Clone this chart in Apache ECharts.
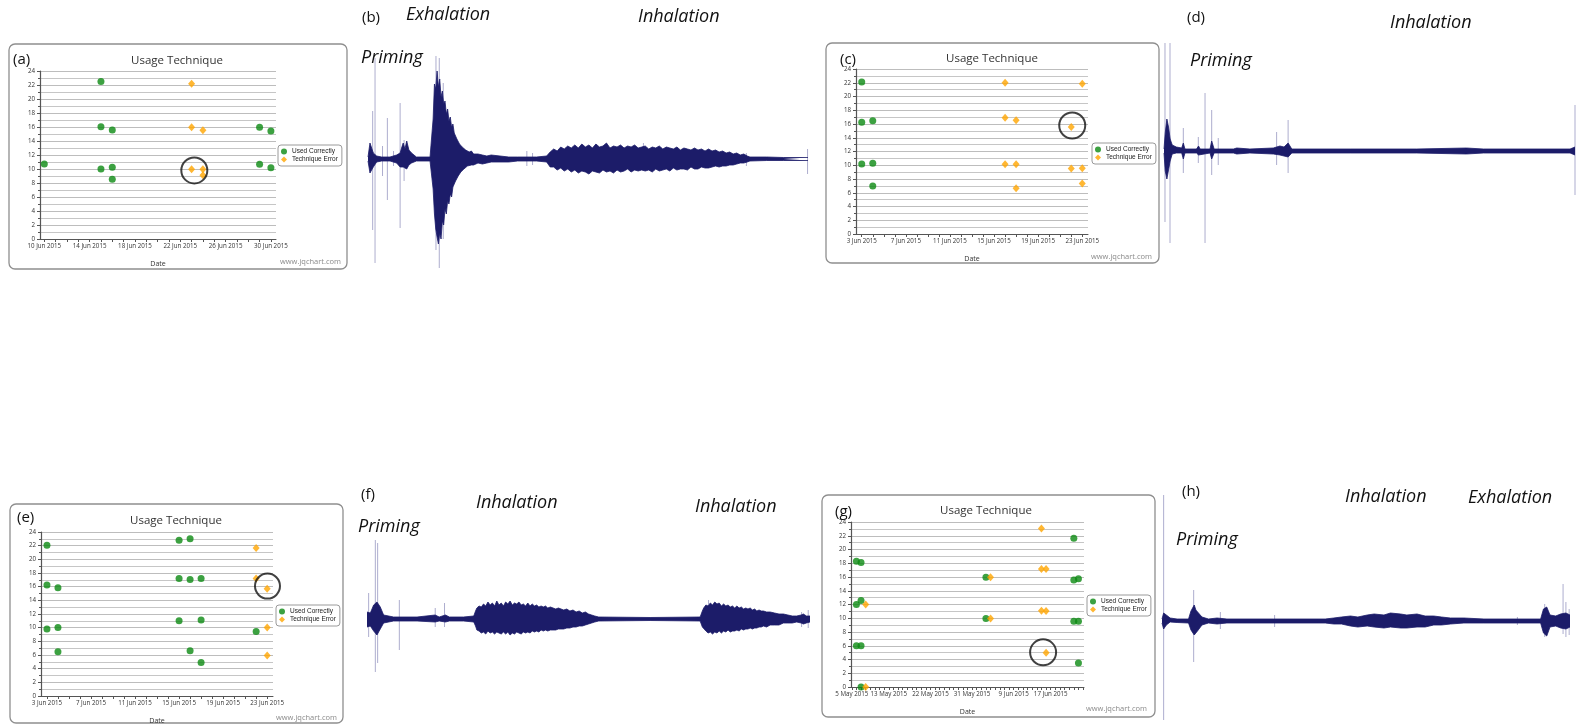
<!DOCTYPE html>
<html>
<head>
<meta charset="utf-8">
<title>Usage Technique</title>
<script src="https://cdn.jsdelivr.net/npm/echarts@6.0.0/dist/echarts.min.js"></script>
<style>
    html, body { margin: 0; padding: 0; background: #fff; }
    #container { width: 1579px; height: 725px; }
</style>
</head>
<body>
<div id="container"></div>
<script>
// ---- scatter panels: x = day of month (g: day counted from 1 May), y = value
var aDays = [10, 14, 18, 22, 26, 30];
var aDayLabels = ['10 Jun 2015', '14 Jun 2015', '18 Jun 2015', '22 Jun 2015', '26 Jun 2015', '30 Jun 2015'];
var aCorrect = [[10, 10.7], [15, 22.5], [15, 16.05], [16, 15.57], [15, 10.0], [16, 10.24], [16, 8.52],
    [29, 15.95], [30, 15.43], [29, 10.67], [30, 10.19]];
var aError = [[23, 22.19], [23, 15.95], [24, 15.52], [23, 9.95], [24, 9.95], [24, 9.1]];
var aMarked = [[23.24, 9.8]];

var cDays = [3, 7, 11, 15, 19, 23];
var cDayLabels = ['3 Jun 2015', '7 Jun 2015', '11 Jun 2015', '15 Jun 2015', '19 Jun 2015', '23 Jun 2015'];
var cCorrect = [[3, 22.1], [3, 16.26], [4, 16.46], [3, 10.19], [4, 10.29], [4, 6.99]];
var cError = [[16, 22.0], [23, 21.84], [16, 16.9], [17, 16.55], [22, 15.58], [16, 10.15], [17, 10.15],
    [22, 9.51], [23, 9.56], [17, 6.65], [23, 7.33]];
var cMarked = [[22.09, 15.78]];

var eDays = [3, 7, 11, 15, 19, 23];
var eDayLabels = ['3 Jun 2015', '7 Jun 2015', '11 Jun 2015', '15 Jun 2015', '19 Jun 2015', '23 Jun 2015'];
var eCorrect = [[3, 22.06], [3, 16.23], [4, 15.84], [3, 9.82], [4, 10.01], [4, 6.46], [15, 22.79], [16, 23.03],
    [15, 17.2], [16, 17.06], [17, 17.2], [15, 11.03], [17, 11.13], [16, 6.61], [17, 4.91], [22, 9.43]];
var eError = [[22, 21.67], [22, 17.2], [23, 15.7], [23, 10.01], [23, 5.93]];
var eMarked = [[23.03, 16.08]];

var gDays = [5, 13, 22, 31, 40, 48];
var gDayLabels = ['5 May 2015', '13 May 2015', '22 May 2015', '31 May 2015', '9 Jun 2015', '17 Jun 2015'];
var gCorrect = [[6, 18.3], [7, 18.1], [6, 12.0], [7, 12.6], [6, 6.0], [7, 6.0], [7, 0], [34, 15.97], [34, 9.95],
    [53, 21.65], [53, 15.58], [54, 15.73], [53, 9.56], [54, 9.56], [54, 3.5]];
var gError = [[8, 12.0], [8, 0], [35, 15.97], [35, 9.95], [46, 23.06], [46, 17.18], [47, 17.18], [46, 11.1],
    [47, 11.07], [47, 5.0]];
var gMarked = [[46.36, 5.05]];

// ---- waveform panels: [position % of recording, amplitude up, amplitude down]
var bEnvelope = [[0, 2, 2], [0.45, 16, 14], [0.83, 15, 12], [1.21, 6, 8], [1.97, 3, 3], [3.1, 2, 2], [5.0, 2, 2],
    [6.5, 4, 4], [7.3, 6, 8], [7.7, 12, 6], [8.0, 16, 8], [8.4, 10, 7], [8.8, 18, 10], [9.3, 9, 6], [9.9, 6, 4],
    [11.0, 2, 2], [14.1, 2, 2], [14.5, 3, 3], [14.8, 40, 30], [15.1, 75, 55], [15.4, 70, 70], [15.7, 88, 78],
    [16.0, 72, 85], [16.3, 80, 74], [16.6, 62, 80], [16.9, 68, 62], [17.2, 55, 66], [17.5, 58, 50], [17.8, 45, 55],
    [18.1, 50, 42], [18.4, 38, 45], [18.7, 42, 35], [19.0, 32, 38], [19.3, 35, 28], [19.6, 26, 30], [19.9, 28, 22],
    [20.2, 20, 24], [20.5, 22, 17], [20.8, 15, 18], [21.1, 17, 13], [21.4, 12, 14], [21.8, 13, 10], [22.2, 9, 10],
    [22.6, 10, 7], [23.0, 7, 8], [23.5, 8, 6], [24.0, 5, 6], [25.0, 5, 4], [26.0, 4, 5], [27.0, 3, 4], [28.0, 4, 3],
    [30.0, 3, 3], [32.0, 2, 3], [34.0, 2, 2], [38.3, 2, 2], [40.6, 3, 3],
    [41.4, 7, 8], [42.2, 10, 8], [43.0, 8, 11], [43.8, 12, 9], [44.6, 10, 12], [45.4, 13, 10], [46.2, 11, 13],
    [47.0, 14, 11], [47.8, 11, 14], [48.6, 15, 12], [49.4, 12, 13], [50.2, 14, 15], [51.0, 11, 12], [51.8, 15, 13],
    [52.6, 12, 14], [53.4, 13, 11], [54.2, 16, 13], [55.0, 11, 12], [55.8, 13, 14], [56.6, 12, 11], [57.4, 14, 13],
    [58.2, 11, 12], [59.0, 13, 10], [59.8, 12, 13], [60.6, 14, 11], [61.4, 11, 12], [62.2, 12, 11], [63.0, 13, 12],
    [63.8, 10, 11], [64.6, 12, 13], [65.4, 11, 10], [66.2, 13, 12], [67.0, 10, 11], [67.8, 12, 10], [68.6, 11, 12],
    [69.4, 10, 9], [70.2, 12, 11], [71.0, 9, 10], [71.8, 11, 10], [72.6, 10, 11], [73.4, 9, 8], [74.2, 11, 10],
    [75.0, 9, 10], [75.8, 10, 8], [76.6, 8, 9], [77.4, 10, 9], [78.2, 8, 8], [79.0, 9, 7], [79.8, 7, 8],
    [80.6, 8, 7], [81.4, 6, 7], [82.2, 7, 6], [83.0, 5, 6], [83.8, 6, 5], [84.6, 4, 4], [85.4, 5, 4], [86.2, 3, 3],
    [86.8, 2, 2], [90.6, 2, 1.5], [94.4, 1.5, 1.5], [100, 1.5, 1.5]];
var bSpikes = [[1.06, 48, 71], [1.6, 101, 104], [3.3, 13, 17], [4.4, 41, 41], [5.8, 8, 7], [7.3, 56, 69],
    [8.2, 19, 22], [15.45, 103, 91], [16.2, 101, 109], [17.1, 76, 80], [36.1, 8, 7], [37.4, 6, 6],
    [62.6, 16, 11], [86.0, 6, 7], [99.9, 10, 15]];

var dEnvelope = [[0, 2, 2], [0.3, 18, 20], [0.7, 32, 28], [1.1, 24, 30], [1.5, 12, 10], [2.0, 6, 3], [3.0, 4, 2],
    [4.3, 3, 2], [4.7, 8, 8], [5.1, 2, 2], [7.9, 2, 2], [8.4, 5, 4], [8.8, 2, 2], [11.2, 2, 2], [11.6, 10, 8],
    [12.2, 2, 2], [16.9, 2, 2], [17.7, 3, 3], [20.9, 2, 2], [26.6, 3, 3], [28.2, 5, 4], [29.2, 4, 5], [30.2, 8, 6],
    [31.1, 2, 2], [45.3, 2, 2], [61.5, 2, 2], [73.6, 3, 3], [77.7, 2, 2], [98.8, 2, 2], [100, 4, 4]];
var dSpikes = [[0.24, 108, 71], [1.46, 108, 92], [4.7, 23, 22], [8.35, 14, 12], [9.98, 58, 92], [11.6, 41, 24],
    [13.2, 13, 14], [17.7, 3, 3], [27.4, 19, 14], [30.2, 31, 22], [100, 46, 44]];

var fEnvelope = [[0, 7, 8], [0.75, 6, 7], [1.5, 14, 12], [2.25, 17, 16], [3.0, 12, 10], [3.75, 4, 4], [6.0, 2, 2],
    [11.3, 2, 2], [15.4, 4, 3], [16.3, 2, 2], [17.7, 4, 3], [18.6, 2, 2], [21.8, 2, 2], [24.1, 3, 3],
    [24.5, 8, 7], [24.8, 11, 11], [25.3, 13, 12], [25.8, 12, 14], [26.3, 15, 13], [26.8, 13, 15], [27.3, 17, 12],
    [27.8, 14, 14], [28.3, 16, 13], [28.8, 13, 15], [29.3, 18, 13], [29.8, 14, 14], [30.3, 16, 15], [30.8, 13, 13],
    [31.3, 17, 15], [31.8, 15, 13], [32.3, 18, 16], [32.8, 14, 14], [33.3, 16, 15], [33.8, 15, 13], [34.3, 17, 14],
    [34.8, 14, 15], [35.3, 15, 13], [35.8, 13, 14], [36.3, 16, 13], [36.8, 13, 14], [37.3, 15, 12], [37.8, 13, 13],
    [38.3, 14, 12], [38.8, 12, 13], [39.3, 13, 11], [39.8, 12, 12], [40.3, 13, 11], [40.8, 11, 12], [41.4, 12, 11],
    [42.0, 11, 11], [42.6, 10, 11], [43.2, 11, 10], [43.8, 10, 10], [44.4, 9, 10], [45.1, 10, 9], [45.8, 8, 9],
    [46.5, 9, 8], [47.2, 7, 8], [47.9, 8, 7], [48.6, 6, 7], [49.3, 7, 6], [50.0, 5, 5], [50.7, 4, 4], [51.4, 3, 3],
    [52.3, 2, 2], [63.9, 1.5, 1.5], [75.2, 2, 2],
    [75.7, 8, 8], [76.0, 11, 10], [76.5, 14, 12], [77.0, 13, 14], [77.5, 16, 13], [78.0, 14, 15], [78.5, 17, 13],
    [79.0, 15, 14], [79.5, 16, 12], [80.0, 13, 14], [80.5, 15, 12], [81.0, 13, 13], [81.5, 14, 11], [82.0, 12, 13],
    [82.5, 13, 12], [83.0, 11, 12], [83.5, 13, 11], [84.0, 11, 12], [84.5, 12, 10], [85.0, 10, 11], [85.5, 11, 10],
    [86.0, 10, 10], [86.5, 11, 9], [87.0, 9, 10], [87.5, 10, 9], [88.0, 8, 9], [88.5, 9, 8], [89.0, 8, 8],
    [89.5, 8, 7], [90.2, 7, 8], [91.0, 7, 6], [92.0, 6, 6], [93.0, 5, 6], [94.0, 5, 4], [95.0, 4, 4], [96.0, 3, 4],
    [97.0, 3, 3], [98.0, 4, 4], [98.5, 5, 5], [99.2, 3, 4], [100, 3, 3]];
var fSpikes = [[0.37, 26, 18], [1.88, 79, 53], [2.4, 76, 44], [7.3, 19, 31], [15.4, 11, 8], [17.5, 16, 8],
    [77.1, 19, 14], [98.1, 7, 8], [99.6, 9, 9]];

var hEnvelope = [[0, 2, 2], [0.4, 8, 8], [1.06, 6, 4], [2.0, 3, 1], [3.7, 2, 1.5], [6.5, 2, 2], [7.1, 10, 9],
    [7.5, 13, 11], [7.9, 16, 14], [8.3, 11, 13], [8.7, 12, 10], [9.8, 4, 4], [11.4, 2, 2], [13.5, 3, 3],
    [15.9, 2, 2], [27.4, 2, 2], [38.0, 2, 2], [40.0, 2, 2], [42.1, 3, 3], [44.0, 4, 3], [46.2, 5, 5], [48.0, 4, 6],
    [50.3, 6, 5], [52.0, 7, 6], [54.4, 6, 7], [56.0, 8, 6], [58.5, 7, 7], [60.0, 6, 7], [62.5, 7, 6], [64.5, 5, 6],
    [66.6, 5, 4], [68.5, 4, 4], [70.7, 3, 3], [74.0, 3, 2], [78.9, 2, 2], [92.8, 2, 2], [93.5, 12, 12],
    [94.3, 14, 15], [95.1, 6, 6], [96.5, 5, 5], [97.7, 7, 7], [99.0, 8, 8], [100, 6, 6]];
var hSpikes = [[0.4, 126, 99], [7.76, 31, 41], [14.3, 9, 8], [27.6, 6, 6], [87.1, 4, 4], [93.8, 17, 16],
    [98.3, 37, 13], [99.0, 19, 16], [99.8, 12, 14]];

var FONT = "'Open Sans', 'DejaVu Sans', sans-serif";
var NAVY = '#1c1c69';
var SPIKE = 'rgba(40, 40, 125, 0.38)';
var GREEN = '#0b8a12';
var ORANGE = '#ffa500';

var grids = [], xAxes = [], yAxes = [], series = [], legends = [], graphics = [];

function addText(text, x, y, font, align, color) {
    graphics.push({
        type: 'text', x: x, y: y, z: 50, silent: true,
        style: {
            text: text, font: font, fill: color || '#111',
            align: align || 'left', textAlign: align || 'left',
            verticalAlign: 'middle', textVerticalAlign: 'middle'
        }
    });
}

function addScatterPanel(p) {
    var idx = grids.length;
    grids.push({left: p.grid[0], top: p.grid[1], width: p.grid[2], height: p.grid[3]});
    var ticks = [];
    for (var d = Math.ceil(p.xMin); d <= Math.floor(p.xMax); d++) {
        ticks.push(d);
    }
    xAxes.push({
        gridIndex: idx,
        type: 'value',
        min: p.xMin,
        max: p.xMax,
        axisLine: {show: true, onZero: false, lineStyle: {color: '#555', width: 1}},
        axisTick: {show: true, customValues: ticks, length: 3, lineStyle: {color: '#555'}},
        axisLabel: {
            customValues: p.days, fontSize: 6.2, color: '#333', margin: 4, fontFamily: FONT,
            formatter: function (v) {
                var k = p.days.indexOf(v);
                return k < 0 ? '' : p.labels[k];
            }
        },
        splitLine: {show: false},
        name: 'Date',
        nameLocation: 'middle',
        nameGap: 21,
        nameTextStyle: {fontSize: 7, color: '#333', fontFamily: FONT}
    });
    yAxes.push({
        gridIndex: idx,
        type: 'value',
        min: 0,
        max: 24,
        interval: 2,
        axisLine: {show: true, lineStyle: {color: '#555', width: 1.2}},
        axisTick: {show: true, length: 3, lineStyle: {color: '#555'}},
        minorTick: {show: true, splitNumber: 2, length: 2, lineStyle: {color: '#555'}},
        axisLabel: {fontSize: 6.2, color: '#333', margin: 5, fontFamily: FONT},
        splitLine: {show: true, lineStyle: {color: '#bdbdbd', width: 1}},
        minorSplitLine: {show: true, lineStyle: {color: '#c6c6c6', width: 1}}
    });
    series.push({
        name: 'Used Correctly', type: 'scatter', xAxisIndex: idx, yAxisIndex: idx,
        symbol: 'circle', symbolSize: 7, itemStyle: {color: GREEN}, data: p.correct, z: 3
    });
    series.push({
        name: 'Technique Error', type: 'scatter', xAxisIndex: idx, yAxisIndex: idx,
        symbol: 'diamond', symbolSize: [7, 8], itemStyle: {color: ORANGE}, data: p.error, z: 3
    });
    series.push({
        name: 'marked', type: 'scatter', xAxisIndex: idx, yAxisIndex: idx, silent: true,
        symbol: 'circle', symbolSize: p.markSize,
        itemStyle: {color: 'rgba(0,0,0,0)', borderColor: '#111', borderWidth: 2}, data: p.marked, z: 4
    });
    legends.push({
        orient: 'vertical', left: p.legend[0], top: p.legend[1],
        itemWidth: 6, itemHeight: 6, itemGap: 1, padding: [3, 4, 3, 3],
        borderColor: '#9a9a9a', borderWidth: 1, borderRadius: 3, selectedMode: false,
        textStyle: {fontSize: 6.5, color: '#222', fontFamily: "'Liberation Sans', Arial, sans-serif"},
        data: [{name: 'Used Correctly', icon: 'circle'}, {name: 'Technique Error', icon: 'diamond'}]
    });
    graphics.push({
        type: 'rect', z: 0, silent: true,
        shape: {x: p.box[0], y: p.box[1], width: p.box[2], height: p.box[3], r: 6},
        style: {fill: 'none', stroke: '#8f8f8f', lineWidth: 1.3}
    });
    addText('Usage Technique', p.title[0], p.title[1], '11.5px ' + FONT, 'center', '#333');
    addText(p.letter, p.letterPos[0], p.letterPos[1], '15px ' + FONT, 'left', '#111');
    addText('www.jqchart.com', p.credit[0], p.credit[1], '7.5px ' + FONT, 'right', '#8a8a8a');
}

function renderSpike(params, api) {
    var x = api.value(0);
    var top = api.coord([x, api.value(1)]);
    var bot = api.coord([x, -api.value(2)]);
    return {
        type: 'line',
        shape: {x1: top[0], y1: top[1], x2: bot[0], y2: bot[1]},
        style: {stroke: SPIKE, lineWidth: 1}
    };
}

function addWavePanel(p) {
    var idx = grids.length;
    grids.push({left: p.grid[0], top: p.grid[1], width: p.grid[2], height: p.grid[3]});
    xAxes.push({gridIndex: idx, type: 'value', min: 0, max: 100, show: false});
    yAxes.push({gridIndex: idx, type: 'value', min: -p.down, max: p.up, show: false});
    series.push({
        type: 'custom', xAxisIndex: idx, yAxisIndex: idx, silent: true,
        renderItem: renderSpike, encode: {x: 0, y: [1, 2]}, data: p.spikes, z: 1
    });
    series.push({
        type: 'line', xAxisIndex: idx, yAxisIndex: idx, silent: true, symbol: 'none',
        lineStyle: {color: NAVY, width: 0.8}, areaStyle: {color: NAVY, opacity: 1},
        data: p.env.map(function (e) { return [e[0], e[1]]; }), z: 2
    });
    series.push({
        type: 'line', xAxisIndex: idx, yAxisIndex: idx, silent: true, symbol: 'none',
        lineStyle: {color: NAVY, width: 0.8}, areaStyle: {color: NAVY, opacity: 1},
        data: p.env.map(function (e) { return [e[0], -e[2]]; }), z: 2
    });
    addText(p.letter, p.letterPos[0], p.letterPos[1], '15px ' + FONT, 'left', '#111');
    for (var i = 0; i < p.words.length; i++) {
        addText(p.words[i][0], p.words[i][1], p.words[i][2], 'italic 18px ' + FONT, 'left', '#111');
    }
}

addScatterPanel({
    grid: [40, 71, 236, 168], xMin: 9.62, xMax: 30.45, days: aDays, labels: aDayLabels,
    correct: aCorrect, error: aError, marked: aMarked, markSize: 26,
    legend: [278, 145], box: [9, 44, 338, 225], title: [177, 61], letter: '(a)', letterPos: [13, 60],
    credit: [341, 262]
});
addScatterPanel({
    grid: [856, 69, 232, 165], xMin: 2.48, xMax: 23.52, days: cDays, labels: cDayLabels,
    correct: cCorrect, error: cError, marked: cMarked, markSize: 26,
    legend: [1092, 143], box: [826, 43, 333, 220], title: [992, 59], letter: '(c)', letterPos: [840, 60],
    credit: [1152, 257]
});
addScatterPanel({
    grid: [41, 532, 232, 164], xMin: 2.46, xMax: 23.53, days: eDays, labels: eDayLabels,
    correct: eCorrect, error: eError, marked: eMarked, markSize: 25,
    legend: [276, 605], box: [10, 504, 333, 219], title: [176, 521], letter: '(e)', letterPos: [17, 518],
    credit: [337, 718]
});
addScatterPanel({
    grid: [851, 522, 233, 165], xMin: 4.83, xMax: 55.2, days: gDays, labels: gDayLabels,
    correct: gCorrect, error: gError, marked: gMarked, markSize: 26,
    legend: [1087, 595], box: [822, 495, 333, 222], title: [986, 511], letter: '(g)', letterPos: [835, 512],
    credit: [1147, 709]
});

addWavePanel({
    grid: [368, 49, 440, 220], up: 110, down: 110, env: bEnvelope, spikes: bSpikes,
    letter: '(b)', letterPos: [362, 18],
    words: [['Exhalation', 406, 15], ['Inhalation', 638, 17], ['Priming', 361, 58]]
});
addWavePanel({
    grid: [1164, 41, 411, 205], up: 110, down: 95, env: dEnvelope, spikes: dSpikes,
    letter: '(d)', letterPos: [1187, 18],
    words: [['Inhalation', 1390, 23], ['Priming', 1190, 61]]
});
addWavePanel({
    grid: [367, 534, 443, 145], up: 85, down: 60, env: fEnvelope, spikes: fSpikes,
    letter: '(f)', letterPos: [361, 495],
    words: [['Inhalation', 476, 503], ['Inhalation', 695, 507], ['Priming', 358, 527]]
});
addWavePanel({
    grid: [1162, 491, 408, 230], up: 130, down: 100, env: hEnvelope, spikes: hSpikes,
    letter: '(h)', letterPos: [1182, 492],
    words: [['Inhalation', 1345, 497], ['Exhalation', 1468, 498], ['Priming', 1176, 540]]
});

var dom = document.getElementById('container');
var myChart = echarts.init(dom, null, {renderer: 'canvas'});
var option = {
    animation: false,
    backgroundColor: '#fff',
    grid: grids,
    xAxis: xAxes,
    yAxis: yAxes,
    legend: legends,
    graphic: {elements: graphics},
    series: series
};
myChart.setOption(option);
</script>
</body>
</html>
